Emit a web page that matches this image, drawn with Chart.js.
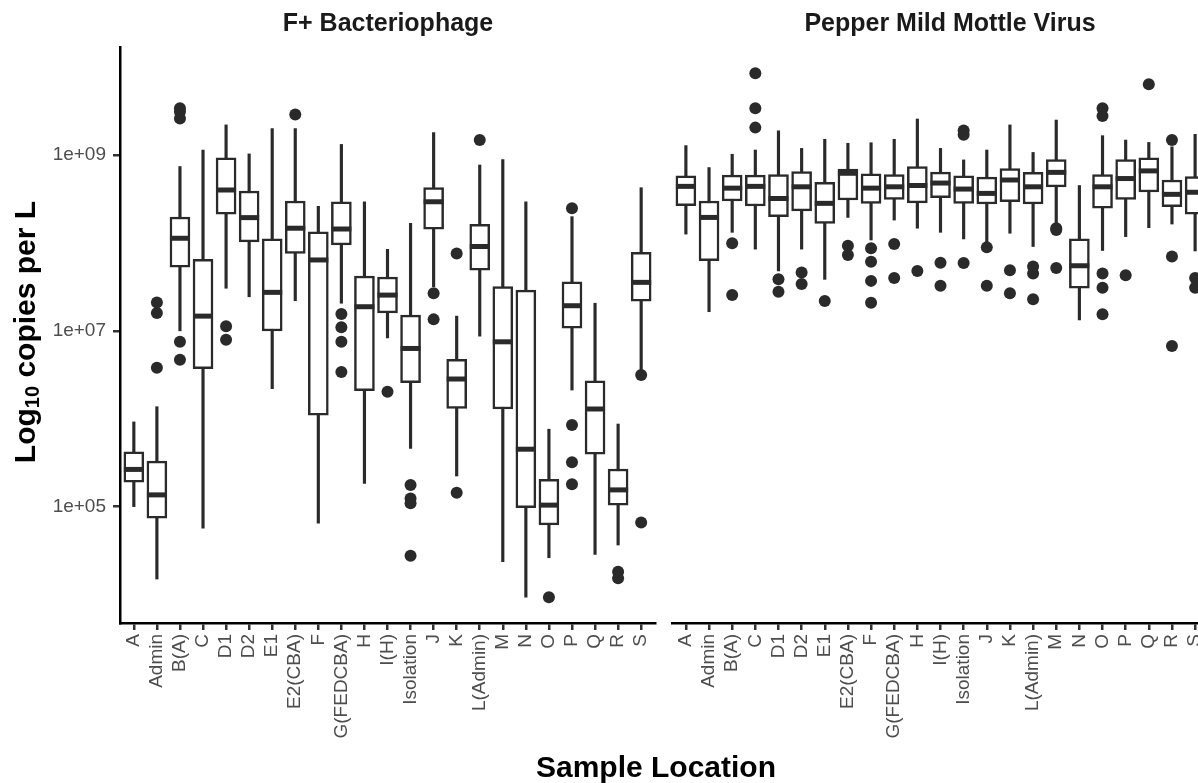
<!DOCTYPE html>
<html>
<head>
<meta charset="utf-8">
<script src="https://cdn.jsdelivr.net/npm/chart.js@4.4.1/dist/chart.umd.min.js"></script>
<style>
  body { margin: 0; width: 1198px; height: 783px; overflow: hidden; background: #fff; position: relative;
         font-family: "Liberation Sans", Arial, sans-serif; }
  canvas { position: absolute; top: 0; }
  #fib { left: 0; }
  #pmm { left: 650px; }
  .strip { position: absolute; top: 10px; font-size: 25px; line-height: 25px; font-weight: bold; color: #1a1a1a;
           white-space: nowrap; transform: translateX(-50%); }
  #xtitle { position: absolute; left: 656px; top: 752px; font-size: 30px; line-height: 30px; font-weight: bold;
            color: #000; white-space: nowrap; transform: translateX(-50%); }
  #ytitle { position: absolute; left: -225px; top: 317px; width: 500px; height: 30px; text-align: center;
            font-size: 30px; line-height: 30px; font-weight: bold; color: #000; transform: rotate(-90deg); }
  #ytitle sub { font-size: 20px; vertical-align: -4px; line-height: 0; }
</style>
</head>
<body>
<canvas id="fib" width="670" height="783"></canvas>
<canvas id="pmm" width="600" height="783"></canvas>
<div class="strip" style="left:388px">F+ Bacteriophage</div>
<div class="strip" style="left:950px">Pepper Mild Mottle Virus</div>
<div id="xtitle">Sample Location</div>
<div id="ytitle">Log<sub>10</sub> copies per L</div>
<script>
// sample locations (same on both panels)
var categories = ['A', 'Admin', 'B(A)', 'C', 'D1', 'D2', 'E1', 'E2(CBA)', 'F', 'G(FEDCBA)', 'H', 'I(H)',
                  'Isolation', 'J', 'K', 'L(Admin)', 'M', 'N', 'O', 'P', 'Q', 'R', 'S'];

// F+ bacteriophage, copies per L
var fibLow  = [1.0e5, 1.5e4, 1.0e7, 5.7e4, 3.05e7, 2.44e7, 2.2e6, 2.2e7, 6.5e4, 2.06e7, 1.84e5, 8.3e6,
               4.6e5, 3.18e7, 2.23e5, 8.7e6, 2.36e4, 9.3e3, 2.62e4, 2.12e6, 2.86e4, 3.66e4, 3.58e6];
var fibQ1   = [1.9e5, 7.4e4, 5.3e7, 3.7e6, 2.13e8, 1.03e8, 9.95e6, 7.6e7, 1.1e6, 9.5e7, 2.08e6, 1.6e7,
               2.57e6, 1.43e8, 1.31e6, 4.9e7, 1.29e6, 9.7e4, 6.2e4, 1.07e7, 3.96e5, 1.04e5, 2.18e7];
var fibMed  = [2.65e5, 1.36e5, 1.13e8, 1.47e7, 4.0e8, 1.94e8, 2.74e7, 1.47e8, 6.4e7, 1.44e8, 1.88e7, 2.55e7,
               6.3e6, 2.94e8, 2.83e6, 9.1e7, 7.5e6, 4.5e5, 1.04e5, 1.93e7, 1.29e6, 1.55e5, 3.56e7];
var fibQ3   = [4.2e5, 3.3e5, 1.97e8, 6.5e7, 9.3e8, 3.9e8, 1.11e8, 3.0e8, 1.34e8, 2.94e8, 4.2e7, 4.1e7,
               1.51e7, 4.25e8, 4.74e6, 1.63e8, 3.18e7, 2.9e7, 2.05e5, 3.6e7, 2.7e6, 2.68e5, 7.8e7];
var fibHigh = [9.2e5, 1.37e6, 7.4e8, 1.14e9, 2.2e9, 1.03e9, 2.0e9, 2.0e9, 2.6e8, 1.32e9, 2.94e8, 8.45e7,
               1.67e8, 1.8e9, 1.47e7, 7.7e8, 8.9e8, 2.94e8, 7.6e5, 1.99e8, 2.06e7, 8.7e5, 4.25e8];
var fibOutliers = [
  [], [2.1e7, 1.6e7, 3.8e6], [3.4e9, 3.1e9, 2.6e9, 7.5e6, 4.7e6], [], [1.13e7, 7.9e6], [], [],
  [2.9e9], [], [1.55e7, 1.1e7, 7.5e6, 3.4e6], [], [2.03e6], [1.76e5, 1.24e5, 1.09e5, 2.76e4],
  [2.67e7, 1.35e7], [7.6e7, 1.44e5], [1.48e9], [], [], [9.3e3], [2.48e8, 8.5e5, 3.2e5, 1.8e5], [],
  [1.82e4, 1.53e4], [3.14e6, 6.6e4]
];

// Pepper mild mottle virus, copies per L
var pmmLow  = [1.26e8, 1.65e7, 1.32e8, 8.5e7, 4.8e7, 8.5e7, 3.85e7, 1.95e8, 1.08e8, 1.82e8, 1.47e8, 1.32e8,
               1.11e8, 1.03e8, 1.29e8, 9.1e7, 1.6e8, 1.33e7, 8.2e7, 1.18e8, 1.49e8, 1.64e8, 8.1e7];
var pmmQ1   = [2.65e8, 6.3e7, 3.0e8, 2.63e8, 1.99e8, 2.32e8, 1.67e8, 3.08e8, 2.82e8, 3.13e8, 2.86e8, 3.27e8,
               2.82e8, 2.77e8, 2.94e8, 2.77e8, 4.35e8, 3.05e7, 2.48e8, 3.13e8, 3.8e8, 2.58e8, 2.13e8];
var pmmMed  = [4.4e8, 1.95e8, 4.2e8, 4.4e8, 3.2e8, 4.35e8, 2.82e8, 6.2e8, 4.2e8, 4.35e8, 4.5e8, 4.8e8,
               4.1e8, 3.66e8, 5.2e8, 4.35e8, 6.35e8, 5.5e7, 4.35e8, 5.4e8, 6.6e8, 3.57e8, 3.77e8];
var pmmQ3   = [5.8e8, 3.0e8, 5.9e8, 5.9e8, 6.0e8, 6.5e8, 4.9e8, 6.9e8, 6.1e8, 6.0e8, 7.4e8, 6.4e8,
               5.8e8, 5.6e8, 7.0e8, 6.35e8, 8.9e8, 1.11e8, 6.0e8, 8.9e8, 9.3e8, 5.2e8, 5.7e8];
var pmmHigh = [1.28e9, 7.2e8, 1.02e9, 1.14e9, 1.89e9, 1.19e9, 1.51e9, 1.36e9, 1.38e9, 1.51e9, 2.57e9, 1.19e9,
               8.8e8, 1.14e9, 2.2e9, 1.07e9, 2.5e9, 4.5e8, 1.66e9, 1.48e9, 1.39e9, 1.24e9, 1.72e9];
var pmmOutliers = [
  [], [], [9.9e7, 2.55e7], [8.5e9, 3.4e9, 2.05e9], [3.85e7, 2.79e7], [4.6e7, 3.4e7], [2.18e7],
  [9.3e7, 7.3e7], [8.7e7, 6.1e7, 3.7e7, 2.09e7], [9.7e7, 4.0e7], [4.8e7], [5.96e7, 3.26e7],
  [1.9e9, 1.7e9, 5.9e7], [8.9e7, 3.26e7], [4.9e7, 2.67e7], [5.4e7, 4.5e7, 2.28e7],
  [1.47e8, 1.4e8, 5.2e7], [], [3.4e9, 2.78e9, 4.5e7, 3.1e7, 1.54e7], [4.3e7], [6.4e9],
  [1.48e9, 7.0e7, 6.7e6], [4.0e7, 3.1e7]
];

var yTicks = [1e5, 1e7, 1e9];
var yMin = Math.pow(10, 3.676);
var yMax = Math.pow(10, 10.229);

var ink = '#2a2a2a';
var fontFam = '"Liberation Sans", Arial, sans-serif';

function makePanel(id, low, q1, med, q3, high, outliers, showY, padLeft, padRight) {
	var pts = [];
	outliers.forEach(function(list, i) {
		list.forEach(function(v) { pts.push({x: i, y: v}); });
	});

	return new Chart(document.getElementById(id), {
		type: 'bar',
		data: {
			datasets: [{
				// whiskers
				data: categories.map(function(c, i) { return {x: i, y: [low[i], high[i]]}; }),
				backgroundColor: ink,
				borderWidth: 0,
				barThickness: 2.5,
				grouped: false,
				order: 4
			}, {
				// boxes
				data: categories.map(function(c, i) { return {x: i, y: [q1[i], q3[i]]}; }),
				backgroundColor: '#ffffff',
				borderColor: ink,
				borderWidth: 2.5,
				borderSkipped: false,
				barThickness: 20,
				grouped: false,
				order: 3
			}, {
				// medians
				type: 'line',
				data: categories.map(function(c, i) { return {x: i, y: med[i]}; }),
				showLine: false,
				pointStyle: 'line',
				pointRadius: 10,
				pointHoverRadius: 10,
				pointBorderWidth: 5,
				pointBorderColor: ink,
				order: 2
			}, {
				// outliers
				type: 'line',
				data: pts,
				showLine: false,
				pointStyle: 'circle',
				pointRadius: 6,
				pointHoverRadius: 6,
				pointBackgroundColor: ink,
				pointBorderWidth: 0,
				order: 1
			}]
		},
		options: {
			responsive: false,
			animation: false,
			events: [],
			layout: { padding: { top: 47, bottom: 0, left: padLeft, right: padRight } },
			plugins: { legend: { display: false }, tooltip: { enabled: false } },
			scales: {
				x: {
					type: 'linear',
					min: -0.6,
					max: 22.6,
					offset: false,
					afterBuildTicks: function(s) {
						s.ticks = categories.map(function(c, i) { return {value: i}; });
					},
					afterFit: function(s) { s.height = 160; },
					ticks: {
						autoSkip: false,
						minRotation: 90,
						maxRotation: 90,
						padding: 4,
						color: '#4d4d4d',
						font: { family: fontFam, size: 19 },
						callback: function(v, i) { return categories[i]; }
					},
					grid: { display: true, offset: false, drawOnChartArea: false, drawTicks: true,
					        tickLength: 7, color: '#333333', lineWidth: 2.5 },
					border: { display: true, color: '#000000', width: 2.5 }
				},
				y: {
					type: 'logarithmic',
					display: showY,
					min: yMin,
					max: yMax,
					beginAtZero: false,
					afterBuildTicks: function(s) {
						s.ticks = yTicks.map(function(v) { return {value: v}; });
					},
					afterFit: function(s) { if (showY) s.width = 120; },
					ticks: {
						padding: 7,
						color: '#4d4d4d',
						font: { family: fontFam, size: 19 },
						callback: function(v) {
							var e = Math.round(Math.log10(v));
							return '1e+' + (e < 10 ? '0' + e : e);
						}
					},
					grid: { display: true, drawOnChartArea: false, drawTicks: true,
					        tickLength: 7, color: '#333333', lineWidth: 2.5 },
					border: { display: true, color: '#000000', width: 2.5 }
				}
			}
		}
	});
}

makePanel('fib', fibLow, fibQ1, fibMed, fibQ3, fibHigh, fibOutliers, true, 0, 13);
makePanel('pmm', pmmLow, pmmQ1, pmmMed, pmmQ3, pmmHigh, pmmOutliers, false, 22, 41);
</script>
</body>
</html>
